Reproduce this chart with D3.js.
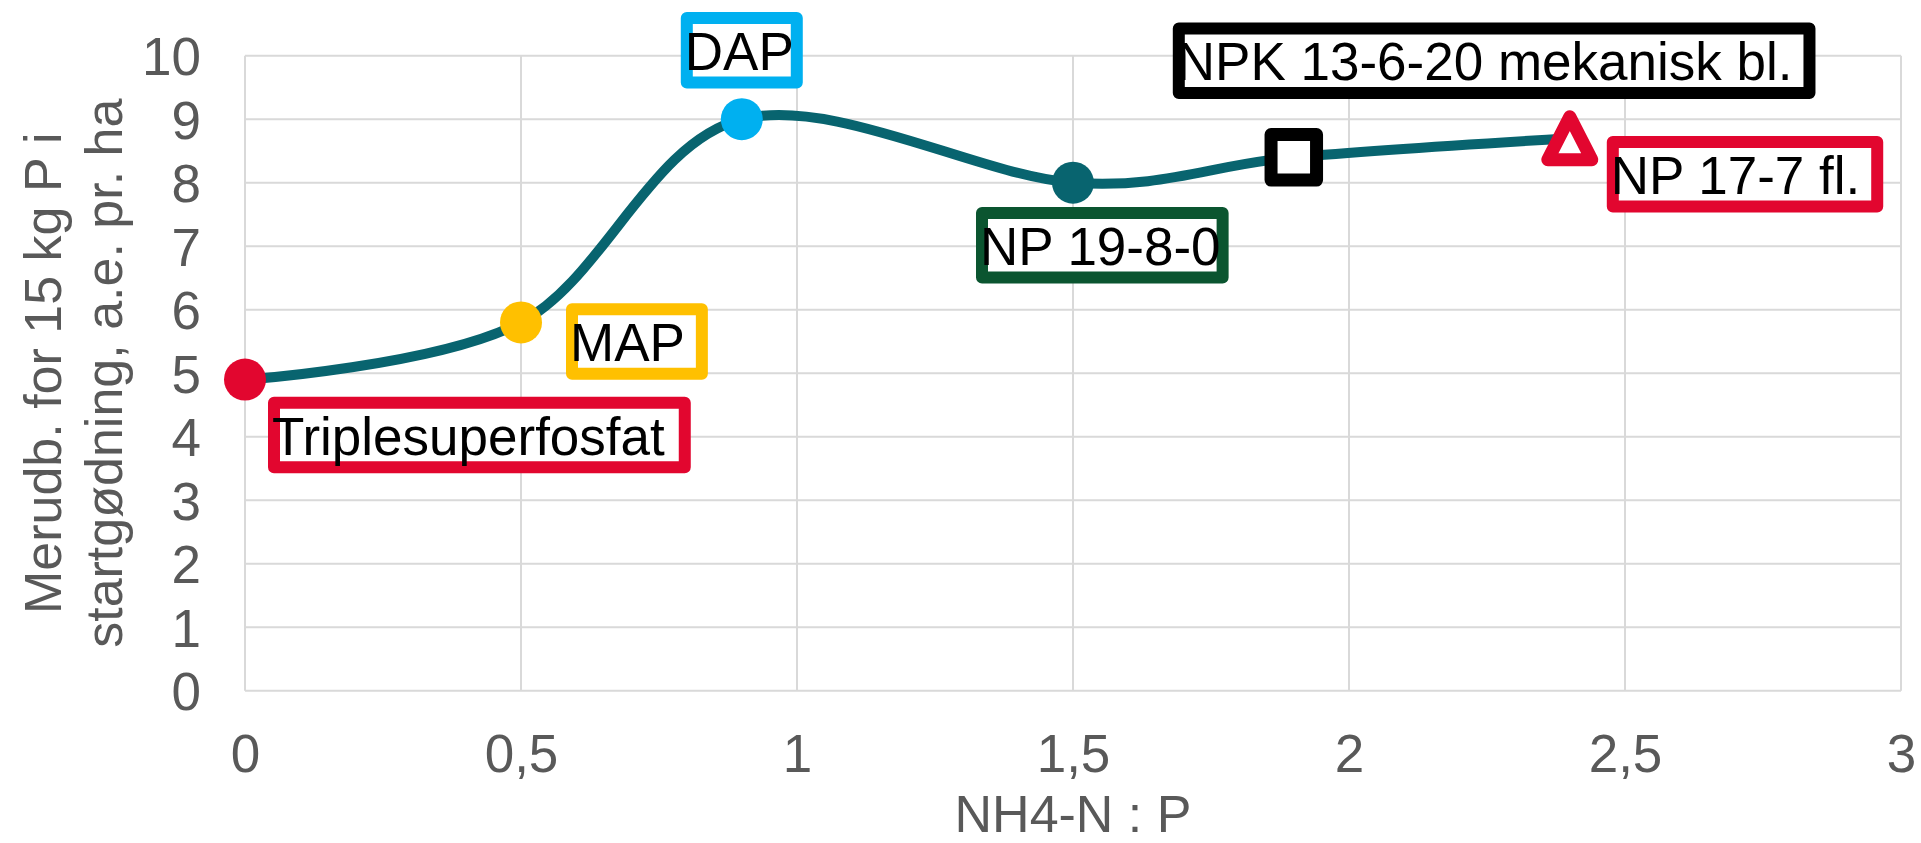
<!DOCTYPE html>
<html>
<head>
<meta charset="utf-8">
<script src="https://cdn.jsdelivr.net/npm/d3@7"></script>
<style>
  html, body { margin: 0; padding: 0; background: #ffffff; }
  svg { display: block; font-family: "Liberation Sans", Arial, sans-serif; }
</style>
</head>
<body>
<svg id="chart" width="1921" height="843"></svg>
<script>
// Gødningstyper, forhold NH4-N : P og merudbytte
const products = ["Triplesuperfosfat", "MAP", "DAP", "NP 19-8-0", "NPK 13-6-20 mekanisk bl.", "NP 17-7 fl."];
const ratioNP = [0, 0.5, 0.9, 1.5, 1.9, 2.4];
const yieldGain = [4.9, 5.8, 9.0, 8.0, 8.4, 8.7];

const xTicks = [0, 0.5, 1, 1.5, 2, 2.5, 3];
const xTickLabels = ["0", "0,5", "1", "1,5", "2", "2,5", "3"];
const yTicks = [0, 1, 2, 3, 4, 5, 6, 7, 8, 9, 10];

const xTitle = "NH4-N : P";
const yTitleLines = ["Merudb. for 15 kg P i", "startgødning, a.e. pr. ha"];

// Marker and label styling per product
const style = [
  { shape: "circle",   color: "#e2062f", box: "#e2062f", dx: 23,   dy: 55.5, pad: 30 },
  { shape: "circle",   color: "#ffc000", box: "#ffc000", dx: 45,   dy: 19,   pad: 27 },
  { shape: "circle",   color: "#00b0f0", box: "#00b0f0", dx: -61,  dy: -69,  pad: 13 },
  { shape: "circle",   color: "#08646f", box: "#0b5530", dx: -97,  dy: 62.5, pad: 12 },
  { shape: "square",   color: "#000000", box: "#000000", dx: -121, dy: -96.5, pad: 27 },
  { shape: "triangle", color: "#e2062f", box: "#e2062f", dx: 37,   dy: 36,   pad: 27 }
];

const svg = d3.select("#chart");
const plot = { left: 245, right: 1901, top: 55.7, bottom: 690.7 };

const x = d3.scaleLinear().domain([0, 3]).range([plot.left, plot.right]);
const y = d3.scaleLinear().domain([0, 10]).range([plot.bottom, plot.top]);

const gridColor = "#d9d9d9";
const textGray = "#595959";

// Gridlines
const grid = svg.append("g");
grid.selectAll("line.h").data(yTicks).join("line")
  .attr("x1", plot.left).attr("x2", plot.right)
  .attr("y1", d => y(d)).attr("y2", d => y(d))
  .attr("stroke", gridColor).attr("stroke-width", 2);
grid.selectAll("line.v").data(xTicks).join("line")
  .attr("y1", plot.top).attr("y2", plot.bottom)
  .attr("x1", d => x(d)).attr("x2", d => x(d))
  .attr("stroke", gridColor).attr("stroke-width", 2);

// Axes (labels only, Excel-style)
const yAxis = d3.axisLeft(y).tickValues(yTicks).tickSize(0).tickPadding(44).tickFormat(d3.format("d"));
const gy = svg.append("g").attr("transform", `translate(${plot.left},0)`).call(yAxis);
gy.select(".domain").remove();
gy.selectAll("text").attr("font-size", 53).attr("fill", textGray)
  .attr("font-family", "Liberation Sans, Arial, sans-serif").attr("dy", "0.36em");

const xAxis = d3.axisBottom(x).tickValues(xTicks).tickSize(0).tickPadding(0)
  .tickFormat((d, i) => xTickLabels[i]);
const gx = svg.append("g").attr("transform", `translate(0,${plot.bottom})`).call(xAxis);
gx.select(".domain").remove();
gx.selectAll("text").attr("font-size", 53).attr("fill", textGray)
  .attr("font-family", "Liberation Sans, Arial, sans-serif")
  .attr("dy", null).attr("y", 81);

// Axis titles
svg.append("text")
  .attr("x", (plot.left + plot.right) / 2).attr("y", 832)
  .attr("text-anchor", "middle").attr("font-size", 52).attr("fill", textGray)
  .text(xTitle);

const yt = svg.append("g")
  .attr("transform", `translate(0,${(plot.top + plot.bottom) / 2}) rotate(-90)`);
yTitleLines.forEach((line, i) => {
  yt.append("text")
    .attr("x", 0).attr("y", 61 + i * 61)
    .attr("text-anchor", "middle").attr("font-size", 52).attr("fill", textGray)
    .text(line);
});

// Data table
const points = products.map((p, i) => ({ name: p, r: ratioNP[i], v: yieldGain[i], s: style[i] }));

// Smoothed line
const line = d3.line()
  .x(d => x(d.r)).y(d => y(d.v))
  .curve(d3.curveCardinal.tension(0));
svg.append("path")
  .datum(points)
  .attr("d", line)
  .attr("fill", "none")
  .attr("stroke", "#08646f")
  .attr("stroke-width", 10)
  .attr("stroke-linecap", "round")
  .attr("stroke-linejoin", "round");

// Markers
const marks = svg.append("g");
points.forEach(d => {
  const cx = x(d.r), cy = y(d.v);
  if (d.s.shape === "circle") {
    marks.append("circle").attr("cx", cx).attr("cy", cy).attr("r", 21).attr("fill", d.s.color);
  } else if (d.s.shape === "square") {
    const side = 45.5;
    marks.append("rect")
      .attr("x", cx - side / 2).attr("y", cy - side / 2)
      .attr("width", side).attr("height", side)
      .attr("fill", "#ffffff").attr("stroke", d.s.color)
      .attr("stroke-width", 13).attr("stroke-linejoin", "round");
  } else if (d.s.shape === "triangle") {
    const hw = 22, hh = 21.5;
    marks.append("path")
      .attr("d", `M${cx},${cy - hh}L${cx + hw},${cy + hh}L${cx - hw},${cy + hh}Z`)
      .attr("fill", "#ffffff").attr("stroke", d.s.color)
      .attr("stroke-width", 13).attr("stroke-linejoin", "round");
  }
});

// Data labels in bordered boxes
const labels = svg.append("g");
points.forEach(d => {
  const cx = x(d.r), cy = y(d.v);
  const g = labels.append("g");
  const rect = g.append("rect");
  const t = g.append("text")
    .attr("font-size", 53).attr("fill", "#000000")
    .text(d.name);
  const tw = t.node().getComputedTextLength();
  const outerW = tw + d.s.pad;
  const outerH = 76.5;
  const sw = 12;
  const left = cx + d.s.dx;
  const midY = cy + d.s.dy;
  rect.attr("x", left + sw / 2).attr("y", midY - outerH / 2 + sw / 2)
    .attr("width", outerW - sw).attr("height", outerH - sw)
    .attr("fill", "#ffffff").attr("stroke", d.s.box)
    .attr("stroke-width", sw).attr("stroke-linejoin", "round");
  t.attr("x", left + 4).attr("y", midY + 19.5);
});
</script>
</body>
</html>
